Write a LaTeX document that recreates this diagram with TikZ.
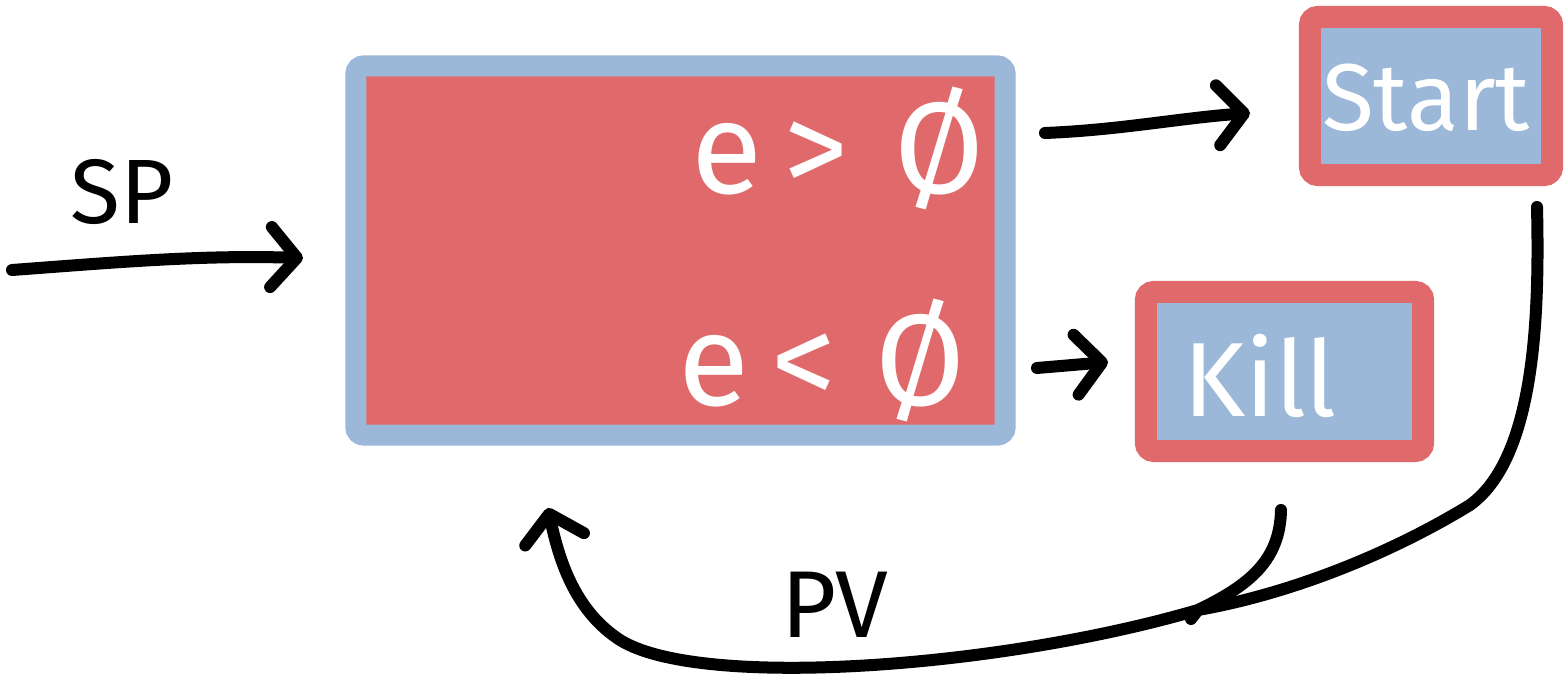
\documentclass[tikz,border=0pt]{standalone}
\usepackage{fontspec}
\setmainfont{Fira Sans}
\usetikzlibrary{arrows.meta}
\definecolor{boxred}{HTML}{E06A6B}
\definecolor{boxblue}{HTML}{9BB8D8}
\tikzset{
  bigbox/.style={draw=boxblue, fill=boxred, line width=0.21cm, rounded corners=0.08cm,
    minimum width=6.49cm, minimum height=3.69cm, inner sep=0pt, outer sep=0pt},
  smallbox/.style={draw=boxred, fill=boxblue, line width=0.22cm, rounded corners=0.08cm,
    inner sep=0pt, outer sep=0pt},
  wlabel/.style={text=white, inner sep=0pt, font=\fontsize{37}{40}\selectfont},
  boxlabel/.style={text=white, inner sep=0pt},
  blabel/.style={text=black, inner sep=0pt},
  conn/.style={line width=0.12cm, line cap=round, line join=round},
  tip/.style={-{Straight Barb[length=0.26cm,width=0.6cm,round]}}
}
\begin{document}
\begin{tikzpicture}[x=0.01cm, y=-0.01cm]
\useasboundingbox (0,0) rectangle (1565,682);
% boxes
\node[bigbox] (main) at (680.5,250.5) {};
\node[smallbox, minimum width=2.42cm, minimum height=1.58cm] (start) at (1431,96) {};
\node[smallbox, minimum width=2.77cm, minimum height=1.59cm] (kill) at (1284.5,371.5) {};
% labels
\node[wlabel] (gt) at (838,148) {e\,>\kern0.35em Ø};
\node[wlabel] (lt) at (822,360) {e\,<\kern0.3em Ø};
\node[boxlabel, font=\fontsize{27}{30}\selectfont] (starttxt) at (1426,98) {Start};
\node[boxlabel, font=\fontsize{30}{32}\selectfont] (killtxt) at (1260,376) {Kill};
\node[blabel, font=\fontsize{26}{30}\selectfont] (sp) at (122,192) {SP};
\node[blabel, font=\fontsize{27}{30}\selectfont] (pv) at (835,605) {PV};
% free ends
\coordinate (spin) at (12,270);
\coordinate (spout) at (303,258);
\coordinate (gtout) at (1045,133);
\coordinate (gtin) at (1250,113);
\coordinate (ltout) at (1037,368);
\coordinate (ltin) at (1108,362);
\coordinate (killout) at (1281,510);
\coordinate (startout) at (1537,207);
\coordinate (join) at (1198,610);
\coordinate (back) at (548,508);
% connectors
\draw[conn, tip] (spin) .. controls (120,262) and (200,255) .. (spout);
\draw[conn, tip] (gtout) .. controls (1120,130) and (1180,118) .. (gtin);
\draw[conn, tip] (ltout) -- (ltin);
\draw[conn] (startout) .. controls (1540,330) and (1532,460) .. (1470,505)
   .. controls (1400,548) and (1300,592) .. (join) -- (1191,619);
\draw[conn, tip] (killout) .. controls (1280,560) and (1250,585) .. (join)
   .. controls (1000,668) and (700,690) .. (620,640)
   .. controls (577,612) and (560,565) .. (back);
\end{tikzpicture}
\end{document}
